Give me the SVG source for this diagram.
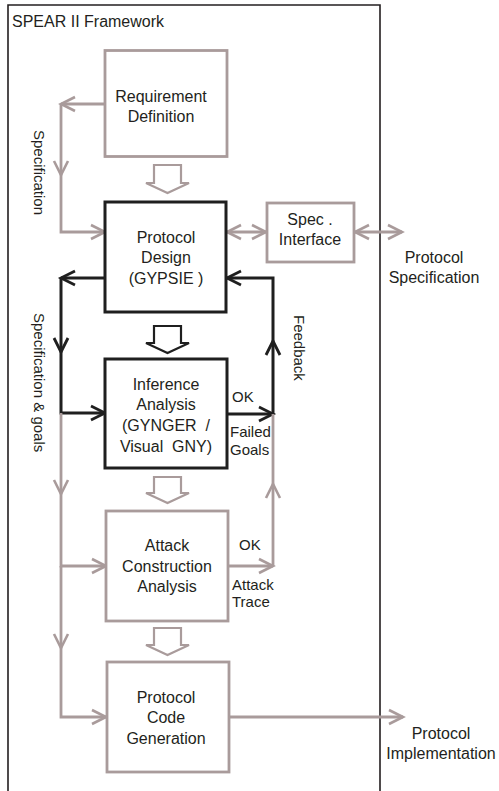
<svg xmlns="http://www.w3.org/2000/svg" width="499" height="791" viewBox="0 0 499 791">
<defs>
<style>
text{font-family:"Liberation Sans",Arial,sans-serif;font-size:16px;fill:#231f20}
.c{text-anchor:middle}
.s{font-size:15px}
.g{fill:none;stroke:#a99b9b;stroke-width:2.8}
.k{fill:none;stroke:#1f1f1f;stroke-width:3}
.bg{fill:none;stroke:#a99b9b;stroke-width:2.2}
.bk{fill:none;stroke:#1f1f1f;stroke-width:2.2}
.box{fill:#fff}
</style>
<marker id="ag" markerUnits="userSpaceOnUse" markerWidth="20" markerHeight="20" refX="15" refY="8" orient="auto-start-reverse" viewBox="0 0 20 16">
<path d="M1,1 L15,8 L1,15" fill="none" stroke="#a99b9b" stroke-width="2.6"/>
</marker>
<marker id="ak" markerUnits="userSpaceOnUse" markerWidth="20" markerHeight="20" refX="15" refY="8" orient="auto-start-reverse" viewBox="0 0 20 16">
<path d="M1,1 L15,8 L1,15" fill="none" stroke="#1f1f1f" stroke-width="2.8"/>
</marker>
</defs>
<rect width="499" height="791" fill="#fff"/>
<g id="framework">
<path d="M8,795 L8,5 L380,5 L380,795" fill="none" stroke="#231f20" stroke-width="1.6"/>
<text x="12" y="27">SPEAR II Framework</text>
</g>
<g id="connectors">
<path class="g" d="M105,104 L61,104" marker-end="url(#ag)"/>
<path class="g" d="M61,104 L61,175" marker-end="url(#ag)"/>
<path class="g" d="M61,175 L61,232 L105,232" marker-end="url(#ag)"/>
<path class="g" d="M227,232 L266,232" marker-start="url(#ag)" marker-end="url(#ag)"/>
<path class="g" d="M355,232 L402,232" marker-start="url(#ag)" marker-end="url(#ag)"/>
<path class="k" d="M105,278 L61,278" marker-end="url(#ak)"/>
<path class="k" d="M61,278 L61,352" marker-end="url(#ak)"/>
<path class="k" d="M61,352 L61,413 L105,413" marker-end="url(#ak)"/>
<path class="g" d="M61,413 L61,494" marker-end="url(#ag)"/>
<path class="g" d="M61,494 L61,566 L106,566" marker-end="url(#ag)"/>
<path class="g" d="M61,566 L61,648" marker-end="url(#ag)"/>
<path class="g" d="M61,648 L61,717 L106,717" marker-end="url(#ag)"/>
<path class="k" d="M227,414 L273,414" marker-end="url(#ak)"/>
<path class="k" d="M273,414 L273,341" marker-end="url(#ak)"/>
<path class="k" d="M273,341 L273,278 L227,278" marker-end="url(#ak)"/>
<path class="g" d="M228,566 L273,566" marker-end="url(#ag)"/>
<path class="g" d="M273,566 L273,484" marker-end="url(#ag)"/>
<path class="g" d="M273,484 L273,414"/>
<path class="g" d="M229,717 L403,717" marker-end="url(#ag)"/>
<path class="bg" d="M154,165 L181,165 L181,183 L189,183 L167.5,193 L146,183 L154,183 Z"/>
<path class="bk" d="M154,326 L181,326 L181,343 L189,343 L167.5,353 L146,343 L154,343 Z"/>
<path class="bg" d="M154,477 L181,477 L181,493 L189,493 L167.5,503 L146,493 L154,493 Z"/>
<path class="bg" d="M154,628 L181,628 L181,645 L189,645 L167.5,655 L146,645 L154,645 Z"/>
<text class="s" transform="translate(34,130) rotate(90)">Specification</text>
<text class="s" transform="translate(34,313) rotate(90)">Specification &amp; goals</text>
<text class="s" transform="translate(294,315) rotate(90)">Feedback</text>
<text class="s" x="232" y="402">OK</text>
<text class="s" x="230" y="437">Failed</text>
<text class="s" x="230" y="455">Goals</text>
<text class="s" x="239" y="550">OK</text>
<text class="s" x="232" y="590">Attack</text>
<text class="s" x="232" y="607">Trace</text>
</g>
<g id="requirement">
<rect class="g box" x="105" y="50.5" width="122" height="106"/>
<text class="c" x="161" y="102">Requirement</text>
<text class="c" x="161" y="122">Definition</text>
</g>
<g id="design">
<rect class="k box" x="105" y="202" width="121" height="110"/>
<text class="c" x="166" y="243">Protocol</text>
<text class="c" x="166" y="263">Design</text>
<text class="c" x="166" y="284">(GYPSIE )</text>
</g>
<g id="spec-interface">
<rect class="g box" x="267" y="203" width="87" height="59"/>
<text class="c" x="310" y="225">Spec .</text>
<text class="c" x="310" y="245">Interface</text>
</g>
<g id="inference">
<rect class="k box" x="105" y="359" width="122" height="109"/>
<text class="c" x="166" y="390">Inference</text>
<text class="c" x="166" y="410">Analysis</text>
<text class="c" x="166" y="431" xml:space="preserve">(GYNGER  /</text>
<text class="c" x="166" y="452" xml:space="preserve">Visual  GNY)</text>
</g>
<g id="attack">
<rect class="g box" x="106" y="511" width="122" height="110"/>
<text class="c" x="167" y="551">Attack</text>
<text class="c" x="167" y="572">Construction</text>
<text class="c" x="167" y="592">Analysis</text>
</g>
<g id="codegen">
<rect class="g box" x="107" y="662" width="122" height="110"/>
<text class="c" x="166" y="703">Protocol</text>
<text class="c" x="166" y="723">Code</text>
<text class="c" x="166" y="744">Generation</text>
</g>
<g id="protocol-specification">
<text class="c" x="434" y="263">Protocol</text>
<text class="c" x="434" y="283">Specification</text>
</g>
<g id="protocol-implementation">
<text class="c" x="441" y="739">Protocol</text>
<text class="c" x="441" y="759">Implementation</text>
</g>
</svg>
